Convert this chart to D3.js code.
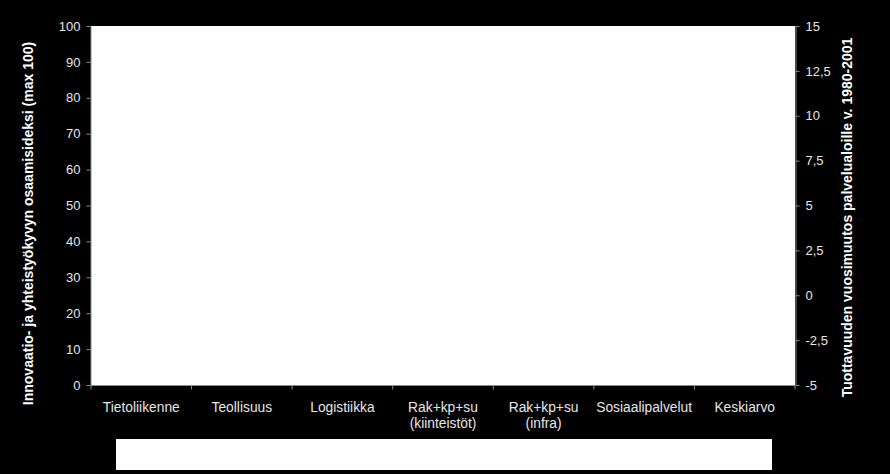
<!DOCTYPE html>
<html>
<head>
<meta charset="utf-8">
<script src="https://d3js.org/d3.v7.min.js"></script>
<style>
  body { margin: 0; background: #000; }
  text { font-family: "Liberation Sans", Arial, sans-serif; }
</style>
</head>
<body>
<div id="chart"></div>
<script>
// categories along the bottom (line breaks with \n)
const categories = ["Tietoliikenne", "Teollisuus", "Logistiikka", "Rak+kp+su\n(kiinteistöt)", "Rak+kp+su\n(infra)", "Sosiaalipalvelut", "Keskiarvo"];
const leftTicks = [0, 10, 20, 30, 40, 50, 60, 70, 80, 90, 100];
const rightTicks = [-5, -2.5, 0, 2.5, 5, 7.5, 10, 12.5, 15];
const leftTitle = "Innovaatio- ja yhteistyökyvyn osaamisideksi (max 100)";
const rightTitle = "Tuottavuuden vuosimuutos palvelualoille v. 1980-2001";

const W = 890, H = 474;
const plot = {left: 91, right: 795, top: 26, bottom: 385};

const svg = d3.select("#chart").append("svg")
    .attr("width", W).attr("height", H)
    .style("background", "#000");

// plot area
svg.append("rect")
    .attr("x", plot.left).attr("y", plot.top)
    .attr("width", plot.right - plot.left).attr("height", plot.bottom - plot.top)
    .attr("fill", "#fff");

const x = d3.scaleBand().domain(categories).range([plot.left, plot.right]);
const yL = d3.scaleLinear().domain([0, 100]).range([plot.bottom, plot.top]);
const yR = d3.scaleLinear().domain([-5, 15]).range([plot.bottom, plot.top]);

const fmt = d => String(d).replace(".", ",");

function styleAxis(g) {
    g.selectAll("path, line").attr("stroke", "#8c8c8c");
    g.selectAll("text").attr("fill", "#e6e6e6").style("font-size", "13px");
}

// left axis
svg.append("g")
    .attr("transform", `translate(${plot.left - 0.5},0)`)
    .call(d3.axisLeft(yL).tickValues(leftTicks).tickSize(4).tickSizeOuter(0).tickPadding(6))
    .call(styleAxis);

// right axis
svg.append("g")
    .attr("transform", `translate(${plot.right + 0.5},0)`)
    .call(d3.axisRight(yR).tickValues(rightTicks).tickFormat(fmt).tickSize(4).tickSizeOuter(0).tickPadding(6))
    .call(styleAxis);

// bottom axis: ticks between categories
const bx = svg.append("g").attr("transform", `translate(0,${plot.bottom + 0.5})`);
bx.append("line")
    .attr("x1", plot.left).attr("x2", plot.right)
    .attr("stroke", "#8c8c8c");
const bounds = categories.map(c => x(c)).concat([plot.right]);
bx.selectAll(".tk").data(bounds).join("line")
    .attr("x1", d => d).attr("x2", d => d)
    .attr("y1", 0).attr("y2", 4)
    .attr("stroke", "#8c8c8c");

const lbl = bx.selectAll(".cat").data(categories).join("text")
    .attr("class", "cat")
    .attr("x", d => x(d) + x.bandwidth() / 2)
    .attr("y", 26)
    .attr("text-anchor", "middle")
    .attr("fill", "#e6e6e6")
    .style("font-size", "13.8px");
lbl.each(function(d) {
    const t = d3.select(this);
    d.split("\n").forEach((s, i) => {
        t.append("tspan").attr("x", x(d) + x.bandwidth() / 2).attr("dy", i ? 16 : 0).text(s);
    });
});

// axis titles
svg.append("text")
    .attr("transform", `translate(33,${(plot.top + plot.bottom) / 2 + 18}) rotate(-90)`)
    .attr("text-anchor", "middle")
    .attr("fill", "#fff")
    .style("font-size", "14px").style("font-weight", "bold")
    .text(leftTitle);

svg.append("text")
    .attr("transform", `translate(852,${(plot.top + plot.bottom) / 2 + 12}) rotate(-90)`)
    .attr("text-anchor", "middle")
    .attr("fill", "#fff")
    .style("font-size", "14px").style("font-weight", "bold")
    .text(rightTitle);

// empty legend box
svg.append("rect")
    .attr("x", 116).attr("y", 439)
    .attr("width", 656).attr("height", 31)
    .attr("fill", "#fff");
</script>
</body>
</html>
